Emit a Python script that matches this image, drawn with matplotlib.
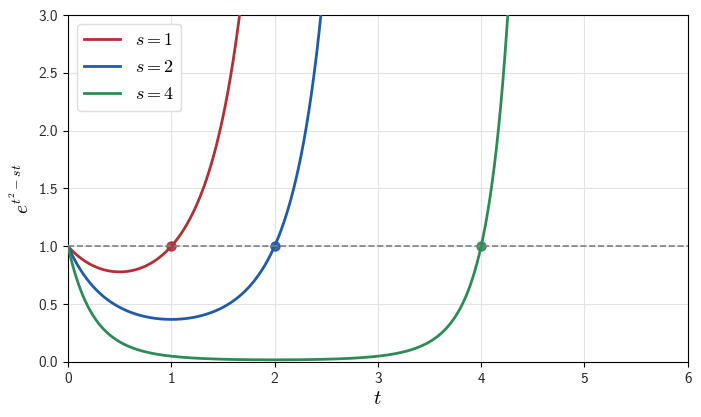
import os
import numpy as np
import matplotlib
matplotlib.use('Agg')
import matplotlib.pyplot as plt
from matplotlib.font_manager import FontProperties

# Parameters of the curves e^{t^2 - s t}
s_values = [1, 2, 4]
colors = ['#b03035', '#1f5ba6', '#2e8b57']
labels = [r'$s = 1$', r'$s = 2$', r'$s = 4$']
t_range = [0, 6]
y_range = [0, 3]
x_ticks = [0, 1, 2, 3, 4, 5, 6]
y_ticks = [0.0, 0.5, 1.0, 1.5, 2.0, 2.5, 3.0]

plt.rcParams['mathtext.fontset'] = 'cm'
cmss = FontProperties(fname=os.path.join(matplotlib.get_data_path(), 'fonts', 'ttf', 'cmss10.ttf'), size=11)

fig, ax = plt.subplots(figsize=(7.01, 4.17), dpi=100)
fig.subplots_adjust(left=0.097, right=0.981, top=0.964, bottom=0.132)

t = np.linspace(t_range[0], t_range[1], 2000)
for s, c, lab in zip(s_values, colors, labels):
    y = np.exp(t**2 - s * t)
    ax.plot(t, y, color=c, lw=2, label=lab, zorder=3)
    ax.plot([s], [1.0], 'o', color=c, ms=6.5, alpha=0.9, zorder=4)

ax.axhline(1.0, color='grey', ls='--', lw=1.2, zorder=5)

ax.set_xlim(t_range)
ax.set_ylim(y_range)
ax.set_xticks(x_ticks)
ax.set_yticks(y_ticks)
ax.set_xticklabels(['%d' % v for v in x_ticks], fontproperties=cmss)
ax.set_yticklabels(['%.1f' % v for v in y_ticks], fontproperties=cmss)
ax.tick_params(labelcolor='#262626')
ax.grid(True, color='#e3e3e3', lw=0.8)
ax.set_axisbelow(True)

ax.set_xlabel(r'$t$', fontsize=15, labelpad=2)
ax.set_ylabel(r'$e^{t^2 - st}$', fontsize=14)

ax.legend(loc='upper left', fontsize=13, framealpha=1, edgecolor='#dddddd')

fig.savefig('out.png', dpi=100)
